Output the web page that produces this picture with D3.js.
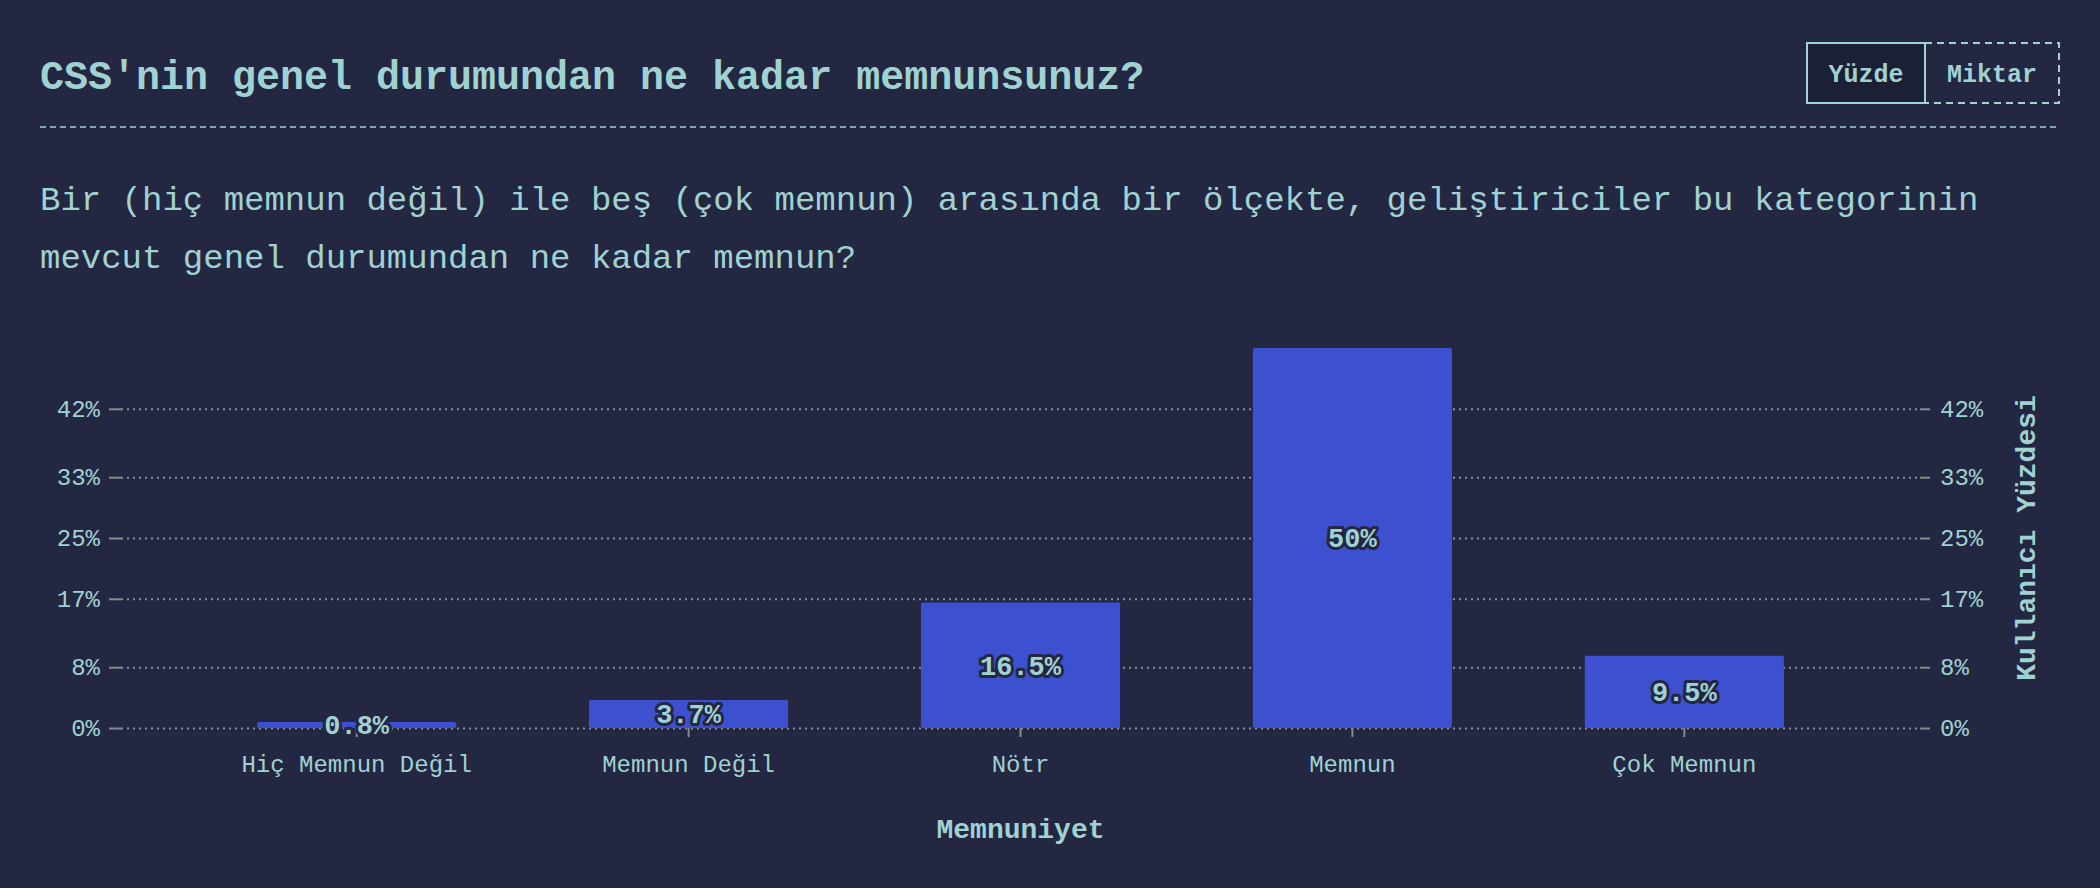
<!DOCTYPE html>
<html>
<head>
<meta charset="utf-8">
<script src="https://cdn.jsdelivr.net/npm/d3@7"></script>
<style>
  body { margin: 0; background: #232741; }
  text { font-family: "Liberation Mono", "DejaVu Sans Mono", monospace; }
</style>
</head>
<body>
<div id="chart"></div>
<script>
// Data
var categories = ["Hiç Memnun Değil", "Memnun Değil", "Nötr", "Memnun", "Çok Memnun"];
var values = [0.8, 3.7, 16.5, 50, 9.5];
var tickValues = [0, 8, 17, 25, 33, 42];
var subtitleLines = [
  "Bir (hiç memnun değil) ile beş (çok memnun) arasında bir ölçekte, geliştiriciler bu kategorinin",
  "mevcut genel durumundan ne kadar memnun?"
];

// Variables for chart creation
var W = 2100, H = 888;
var margin = {top: 348, right: 180, bottom: 160, left: 121};
var width = 1799;
var height = 380;
var textColor = "#a0d2d2";
var bg = "#232741";

var x_scale = d3.scaleBand()
    .domain(categories)
    .range([0, width])
    .paddingInner(0.4)
    .paddingOuter(0.41);
var y_scale = d3.scaleLinear()
    .domain([0, 50])
    .range([height, 0]);

var svg = d3.select("#chart")
  .append("svg")
  .attr("width", W)
  .attr("height", H)
  .style("display", "block")
  .style("background-color", bg);

// Header

svg.append("text")
    .attr("x", 40)
    .attr("y", 89)
    .style("font-size", "40px")
    .style("font-weight", "bold")
    .style("fill", textColor)
    .text("CSS'nin genel durumundan ne kadar memnunsunuz?");

svg.append("line")
    .attr("x1", 40).attr("x2", 2060)
    .attr("y1", 127).attr("y2", 127)
    .style("stroke", textColor)
    .style("stroke-width", 1.5)
    .style("stroke-dasharray", "6,4");

// Toggle buttons
svg.append("rect")
    .attr("x", 1925).attr("y", 43)
    .attr("width", 134).attr("height", 60)
    .style("fill", "none")
    .style("stroke", textColor)
    .style("stroke-width", 2)
    .style("stroke-dasharray", "7,5");
svg.append("rect")
    .attr("x", 1807).attr("y", 43)
    .attr("width", 118).attr("height", 60)
    .style("fill", "#1c2036")
    .style("stroke", textColor)
    .style("stroke-width", 2);
svg.append("text")
    .attr("x", 1866).attr("y", 82)
    .style("text-anchor", "middle")
    .style("font-size", "25px")
    .style("font-weight", "bold")
    .style("fill", textColor)
    .text("Yüzde");
svg.append("text")
    .attr("x", 1992).attr("y", 82)
    .style("text-anchor", "middle")
    .style("font-size", "25px")
    .style("font-weight", "bold")
    .style("fill", textColor)
    .text("Miktar");

svg.selectAll(".subtitle")
    .data(subtitleLines)
    .enter().append("text")
    .attr("class", "subtitle")
    .attr("x", 40)
    .attr("y", function (d, i) { return 210 + i * 58; })
    .style("font-size", "34px")
    .style("fill", textColor)
    .text(function (d) { return d; });

// Chart creation

var chart = svg.append("g")
    .attr("transform", "translate(" + margin.left + "," + margin.top + ")");

// Gridlines
chart.append("g")
    .attr("class", "grid")
    .call(d3.axisLeft(y_scale)
        .tickValues(tickValues)
        .tickSize(-width)
        .tickFormat(""))
    .call(function (g) { g.select(".domain").remove(); })
    .selectAll("line")
    .style("stroke", "#8a8d9c")
    .style("stroke-width", 2)
    .style("stroke-dasharray", "2,4");

// Axes
function styleAxis(g) {
    g.select(".domain").remove();
    g.selectAll("line").style("stroke", "#8a8a8a").style("stroke-width", 2);
    g.selectAll("text")
        .style("font-family", "'Liberation Mono', monospace")
        .style("font-size", "24px")
        .style("fill", textColor);
}

chart.append("g")
    .call(d3.axisLeft(y_scale)
        .tickValues(tickValues)
        .tickSize(12)
        .tickPadding(9)
        .tickFormat(function (d) { return d + "%"; }))
    .call(styleAxis);

chart.append("g")
    .attr("transform", "translate(" + width + ",0)")
    .call(d3.axisRight(y_scale)
        .tickValues(tickValues)
        .tickSize(10)
        .tickPadding(10)
        .tickFormat(function (d) { return d + "%"; }))
    .call(styleAxis);

chart.append("g")
    .attr("transform", "translate(0," + height + ")")
    .call(d3.axisBottom(x_scale)
        .tickSize(9)
        .tickPadding(18))
    .call(styleAxis);

// Bars
var g = chart.selectAll(".bar")
    .data(values)
    .enter()
    .append("g")
    .attr("class", "bar");

g.append("rect")
    .attr("x", function (d, i) { return x_scale(categories[i]); })
    .attr("y", function (d) { return y_scale(d); })
    .attr("width", x_scale.bandwidth())
    .attr("height", function (d) { return y_scale(0) - y_scale(d); })
    .attr("rx", 2)
    .style("fill", "#3d51d0");

g.append("text")
    .attr("x", function (d, i) { return x_scale(categories[i]) + x_scale.bandwidth() / 2; })
    .attr("y", function (d) { return (y_scale(d) + y_scale(0)) / 2; })
    .attr("dy", "0.35em")
    .style("text-anchor", "middle")
    .style("font-size", "27px")
    .style("font-weight", "bold")
    .style("fill", textColor)
    .style("stroke", bg)
    .style("stroke-width", 6)
    .style("stroke-linejoin", "round")
    .style("paint-order", "stroke")
    .text(function (d) { return d + "%"; });

// Axis labels

svg.append("text")
    .attr("x", margin.left + width / 2)
    .attr("y", 838)
    .style("text-anchor", "middle")
    .style("font-size", "28px")
    .style("font-weight", "bold")
    .style("fill", textColor)
    .text("Memnuniyet");

svg.append("text")
    .attr("transform", "translate(2035," + (margin.top + height / 2) + ") rotate(-90)")
    .style("text-anchor", "middle")
    .style("font-size", "28px")
    .style("font-weight", "bold")
    .style("fill", textColor)
    .text("Kullanıcı Yüzdesi");
</script>
</body>
</html>
